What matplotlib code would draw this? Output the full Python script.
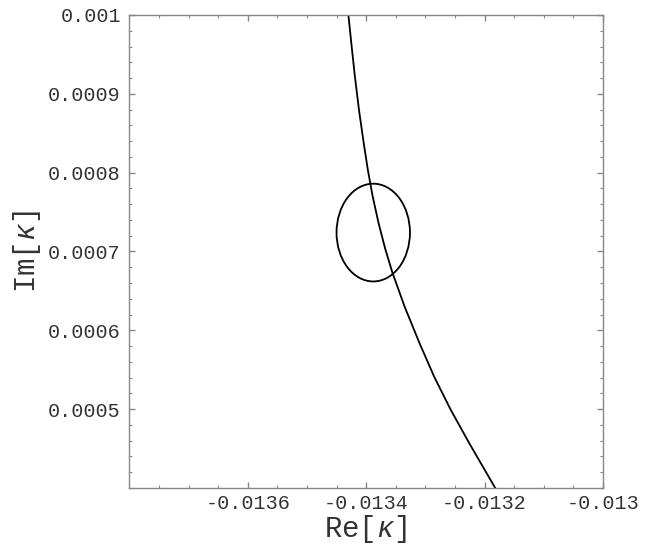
import matplotlib
matplotlib.use("Agg")
import matplotlib.pyplot as plt
from matplotlib.patches import Ellipse
from matplotlib.ticker import FixedLocator, FixedFormatter, MultipleLocator

plt.rcParams['font.family'] = ['Liberation Mono', 'DejaVu Sans Mono']
plt.rcParams['mathtext.fontset'] = 'custom'
plt.rcParams['mathtext.it'] = 'Liberation Mono:italic'
plt.rcParams['mathtext.rm'] = 'Liberation Mono'

# Data
curve_re = [-0.013430, -0.013425, -0.013419, -0.013412, -0.013404,
            -0.013397, -0.013389, -0.013379, -0.013368, -0.013356,
            -0.013335, -0.013310, -0.013285, -0.013257, -0.013226,
            -0.013182]
curve_im = [0.001000, 0.000964, 0.000922, 0.000879, 0.000837,
            0.000803, 0.000770, 0.000736, 0.000704, 0.000674,
            0.000630, 0.000584, 0.000541, 0.000499, 0.000457,
            0.000400]
circle_center = (-0.013388, 0.000724)
circle_radius = 0.000062

x_ticks = [-0.0136, -0.0134, -0.0132, -0.013]
x_ticklabels = ['-0.0136', '-0.0134', '-0.0132', '-0.013']
y_ticks = [0.0005, 0.0006, 0.0007, 0.0008, 0.0009, 0.001]
y_ticklabels = ['0.0005', '0.0006', '0.0007', '0.0008', '0.0009', '0.001']
x_limits = (-0.0138, -0.013)
y_limits = (0.0004, 0.001)

fig = plt.figure(figsize=(6.54, 5.59), dpi=100)
ax = fig.add_axes([0.1977, 0.127, 0.7243, 0.8462])

ax.plot(curve_re, curve_im, color='black', lw=1.3, solid_joinstyle='round')
ax.add_patch(Ellipse(circle_center, 2 * circle_radius, 2 * circle_radius,
                     fill=False, edgecolor='black', lw=1.3))

ax.set_xlim(*x_limits)
ax.set_ylim(*y_limits)

ax.xaxis.set_major_locator(FixedLocator(x_ticks))
ax.xaxis.set_major_formatter(FixedFormatter(x_ticklabels))
ax.yaxis.set_major_locator(FixedLocator(y_ticks))
ax.yaxis.set_major_formatter(FixedFormatter(y_ticklabels))
ax.xaxis.set_minor_locator(MultipleLocator(0.00005))
ax.yaxis.set_minor_locator(MultipleLocator(0.00002))

for s in ax.spines.values():
    s.set_color('#888888')
    s.set_linewidth(1.0)

ax.tick_params(which='both', direction='in', top=True, right=True,
               colors='#888888', labelcolor='#333333', labelsize=14.5)
ax.tick_params(which='major', length=4, width=1.0)
ax.tick_params(which='minor', length=2.5, width=0.8)
ax.tick_params(axis='y', pad=6)
ax.tick_params(axis='x', pad=4)

ax.set_xlabel(r'$\mathrm{Re[}\kappa\mathrm{]}$', fontsize=21, color='#333333', labelpad=0)
ax.set_ylabel(r'$\mathrm{Im[}\kappa\mathrm{]}$', fontsize=21, color='#333333', labelpad=4)

fig.savefig('out.png', dpi=100)
